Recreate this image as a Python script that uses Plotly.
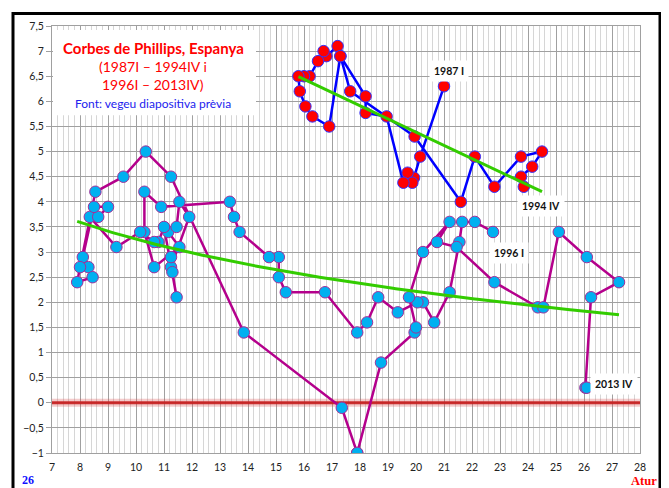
import numpy as np
import plotly.graph_objects as go

# ---- data: Spain, unemployment (x, %) vs inflation (y, %) ----
atur_87_94 = [21.0, 20.15, 19.93, 19.7, 19.87, 19.55, 18.95, 18.2, 18.2, 17.3, 17.2, 16.8,
              16.7, 16.5, 16.2, 16.0, 15.8, 15.85, 16.05, 16.3, 16.9, 17.3, 17.65, 19.95,
              21.6, 22.1, 22.8, 23.75, 24.5, 24.15, 23.75, 23.85]
infl_87_94 = [6.3, 4.9, 4.48, 4.58, 4.38, 4.38, 5.7, 5.77, 6.1, 6.9, 7.1, 6.9,
              7.0, 6.8, 6.5, 6.5, 6.5, 6.2, 5.9, 5.7, 5.5, 6.9, 6.2, 5.3,
              4.0, 4.9, 4.3, 4.9, 5.0, 4.7, 4.5, 4.3]

atur_96_13 = [22.75, 22.1, 21.65, 21.55, 21.2, 20.65, 20.25, 20.05, 19.35, 18.65, 18.25, 17.9,
              16.75, 15.35, 15.1, 15.1, 14.75, 13.7, 13.5, 13.35, 10.9, 10.3, 10.3, 10.65,
              11.55, 11.15, 11.45, 11.55, 11.9, 11.25, 11.25, 11.3, 11.45, 11.0, 10.8, 10.65,
              10.15, 9.3, 8.35, 8.65, 9.0, 8.5, 8.1, 8.3, 8.45, 7.9, 8.0, 8.55,
              9.55, 10.35, 11.25, 13.85, 17.35, 17.9, 17.9, 18.75, 19.95, 20.0, 19.75, 20.25,
              21.2, 20.75, 21.45, 22.8, 24.35, 24.55, 25.1, 26.1, 27.25, 26.25, 26.05, 26.1]
infl_96_13 = [3.4, 3.6, 3.6, 3.2, 2.2, 1.6, 2.0, 2.0, 1.8, 2.1, 1.6, 1.4,
              2.2, 2.2, 2.5, 2.9, 2.9, 3.4, 3.7, 4.0, 3.9, 4.2, 3.4, 2.7,
              3.1, 3.4, 3.5, 4.0, 3.7, 2.7, 2.9, 2.6, 2.1, 3.5, 3.2, 3.2,
              3.4, 3.1, 3.7, 3.7, 3.9, 3.9, 2.9, 2.7, 2.5, 2.4, 2.7, 4.2,
              4.5, 5.0, 4.5, 1.4, -0.1, -1.0, -1.0, 0.8, 1.4, 1.5, 2.1, 3.0,
              3.6, 3.2, 3.1, 2.4, 1.9, 1.9, 3.4, 2.9, 2.4, 2.1, 0.3, 0.3]

point_labels = ["1987 I", "1994 IV", "1996 I", "2013 IV"]
label_pos = [(21.18, 6.61), (24.46, 3.91), (23.32, 2.98), (27.07, 0.375)]

title_lines = ["Corbes de Phillips, Espanya", "(1987I – 1994IV i", "1996I – 2013IV)",
               "Font: vegeu diapositiva prèvia"]

# ---- trend lines (least squares, like spreadsheet trendlines) ----
x1 = np.array(atur_87_94); y1 = np.array(infl_87_94)
m1, c1 = np.polyfit(x1, y1, 1)
tx1 = np.linspace(x1.min(), x1.max(), 50)
ty1 = m1 * tx1 + c1

x2 = np.array(atur_96_13); y2 = np.array(infl_96_13)
b2, a2 = np.polyfit(np.log(x2), y2, 1)
tx2 = np.linspace(x2.min(), x2.max(), 200)
ty2 = a2 + b2 * np.log(tx2)

# page has an 8px body margin: figure is drawn 8px in from the window corner
OFF = 8
W, H = 669 - OFF, 488 - OFF
L, R, T, B = 52 - OFF, 29, 22 - OFF, 35
def px(xp):  # window pixel -> paper x
    return (xp - OFF - L) / (W - L - R)
def py(yp):  # window pixel -> paper y
    return (H - B - (yp - OFF)) / (H - T - B)

fig = go.Figure()
fig.add_trace(go.Scatter(
    x=atur_96_13, y=infl_96_13, mode="lines+markers",
    line=dict(color="#b4008c", width=2.5),
    marker=dict(size=11.5, color="#00b0f0", line=dict(color="#a0309a", width=1)),
    showlegend=False, hoverinfo="skip"))
fig.add_trace(go.Scatter(
    x=atur_87_94, y=infl_87_94, mode="lines+markers",
    line=dict(color="#0000ff", width=2.5),
    marker=dict(size=11.5, color="#ff0000", line=dict(color="#3333ff", width=1)),
    showlegend=False, hoverinfo="skip"))
fig.add_trace(go.Scatter(x=tx2, y=ty2, mode="lines",
                         line=dict(color="#33cc00", width=3),
                         showlegend=False, hoverinfo="skip"))
fig.add_trace(go.Scatter(x=tx1, y=ty1, mode="lines",
                         line=dict(color="#33cc00", width=3),
                         showlegend=False, hoverinfo="skip"))

shapes = [
    # blurred red zero line (above the grid, below the data)
    dict(type="line", xref="x", yref="y", x0=7, x1=28, y0=0, y1=0,
         line=dict(color="rgba(215,70,70,0.28)", width=8), layer="between"),
    dict(type="line", xref="x", yref="y", x0=7, x1=28, y0=0, y1=0,
         line=dict(color="rgba(200,30,30,0.9)", width=3), layer="between"),
    # title box hiding the grid (no data underneath)
    dict(type="rect", xref="paper", yref="paper", x0=px(53), x1=px(256), y0=py(112), y1=py(26),
         fillcolor="white", line=dict(width=0), layer="above"),
    # slide frame
    dict(type="rect", xref="paper", yref="paper", x0=px(13), x1=px(660), y0=py(500), y1=py(9.5),
         line=dict(color="black", width=3), fillcolor="rgba(0,0,0,0)", layer="above"),
]

ann = []
tfont = "Lato, Liberation Sans, sans-serif"
def tline(text, yp, size, color):
    return dict(text=text, x=px(153), y=py(yp), xref="paper", yref="paper",
                xanchor="center", yanchor="middle", showarrow=False,
                font=dict(family=tfont, size=size, color=color))
ann.append(tline("<b>" + title_lines[0] + "</b>", 44, 15, "#ff0000"))
ann.append(tline(title_lines[1], 63, 14, "#ff0000"))
ann.append(tline(title_lines[2], 81, 14, "#ff0000"))
ann.append(tline(title_lines[3], 100, 12, "#2222ee"))
for lab, (lx, ly) in zip(point_labels, label_pos):
    ann.append(dict(text="<b>" + lab + "</b>", x=lx, y=ly, xref="x", yref="y", showarrow=False,
                    xanchor="center", yanchor="middle", bgcolor="white", borderpad=4,
                    font=dict(family=tfont, size=10.5, color="#111111")))
ann.append(dict(text="<b>26</b>", x=px(28), y=py(480), xref="paper", yref="paper", showarrow=False,
                xanchor="center", yanchor="middle",
                font=dict(family="Liberation Serif, serif", size=12, color="#1010ff")))
ann.append(dict(text="<b>Atur</b>", x=px(644), y=py(481), xref="paper", yref="paper", showarrow=False,
                xanchor="center", yanchor="middle",
                font=dict(family="Liberation Serif, serif", size=12.5, color="#ff0000")))

fig.update_layout(
    width=W, height=H, margin=dict(l=L, r=R, t=T, b=B),
    paper_bgcolor="white", plot_bgcolor="white",
    separators=", ",
    shapes=shapes, annotations=ann,
    xaxis=dict(range=[7, 28], tick0=7, dtick=1, showgrid=True, gridcolor="#a0a0a0", gridwidth=1,
               minor=dict(dtick=0.2, showgrid=True, gridcolor="#d6d6d6", gridwidth=1),
               zeroline=False, showline=True, linecolor="#a0a0a0", mirror=True,
               ticks="outside", ticklen=4, tickcolor="rgba(0,0,0,0)",
               tickfont=dict(family=tfont, size=10.5, color="#222222")),
    yaxis=dict(range=[-1, 7.5], tick0=-1, dtick=0.5, showgrid=True, gridcolor="#a0a0a0", gridwidth=1,
               zeroline=False, showline=True, linecolor="#a0a0a0", mirror=True,
               ticks="outside", ticklen=5, tickcolor="#a0a0a0",
               tickfont=dict(family=tfont, size=10.5, color="#222222")),
)

fig.write_html("out.html")
